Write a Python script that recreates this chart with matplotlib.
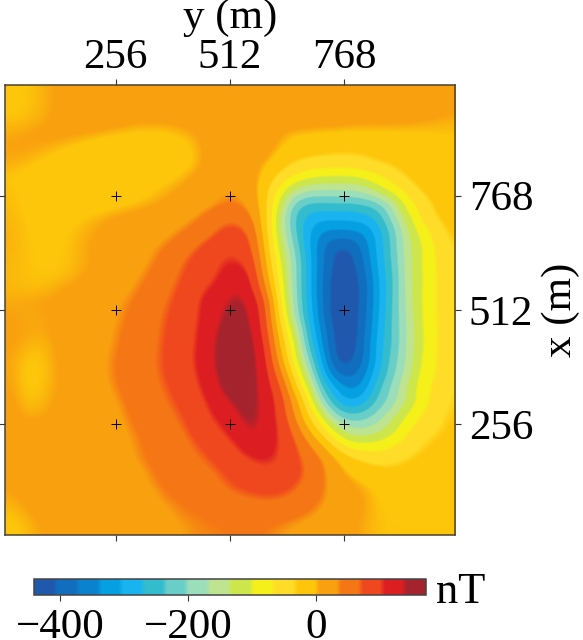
import matplotlib
matplotlib.use('Agg')
import matplotlib.pyplot as plt
from matplotlib.colors import LinearSegmentedColormap
import numpy as np

plt.rcParams['font.family'] = ['Liberation Serif', 'DejaVu Serif']

## Data (nT), top row of the picture first
anomaly = [
    [-4, -3, 0, 5, 8, 10, 12, 13, 14, 14, 14, 14, 15, 15, 15, 15, 15, 14, 12, 11, 10, 10, 10, 10, 11, 13, 15, 18, 18, 15, 12, 10],
    [-5, -3, 0, 5, 10, 15, 18, 20, 20, 18, 17, 16, 17, 18, 19, 20, 20, 18, 16, 15, 15, 14, 13, 12, 13, 14, 15, 17, 17, 15, 12, 9],
    [-2, -1, 2, 6, 10, 13, 14, 12, 9, 7, 6, 7, 9, 13, 18, 20, 20, 19, 17, 16, 15, 14, 12, 11, 9, 8, 8, 8, 7, 5, 3, 1],
    [3, 5, 7, 8, 7, 5, 2, -1, -3, -5, -5, -4, -1, 3, 12, 18, 20, 19, 16, 5, -2, -3, -4, -4, -5, -5, -5, -5, -5, -4, -3, -2],
    [5, 5, 3, 0, -4, -8, -12, -14, -15, -15, -14, -12, -8, -1, 10, 18, 20, 18, 12, 0, -10, -15, -20, -25, -26, -25, -22, -18, -15, -12, -10, -8],
    [2, 0, -4, -8, -11, -14, -16, -18, -19, -19, -18, -15, -10, -2, 10, 18, 18, 12, 3, -15, -33, -42, -45, -46, -44, -38, -30, -25, -20, -15, -12, -9],
    [-3, -6, -9, -11, -13, -15, -16, -16, -15, -13, -10, -6, -1, 6, 15, 22, 22, 14, -10, -40, -65, -88, -97, -100, -100, -90, -72, -50, -30, -18, -12, -8],
    [-2, -5, -8, -10, -12, -13, -14, -13, -11, -8, -4, 1, 6, 14, 22, 30, 30, 18, -25, -75, -140, -165, -172, -170, -170, -155, -115, -85, -55, -30, -18, -12],
    [-1, -4, -7, -9, -10, -10, -9, -7, -4, -1, 3, 8, 14, 20, 28, 37, 38, 24, -22, -110, -215, -250, -248, -246, -246, -240, -222, -160, -85, -55, -27, -14],
    [0, -3, -6, -7, -6, -3, 1, 5, 9, 12, 15, 19, 25, 34, 48, 60, 62, 40, -20, -135, -240, -285, -300, -298, -298, -290, -262, -190, -120, -62, -37, -20],
    [1, -3, -5, -6, -3, 1, 5, 9, 12, 15, 20, 27, 37, 47, 60, 78, 82, 62, -15, -130, -225, -300, -345, -350, -348, -340, -290, -225, -145, -88, -58, -28],
    [1, -2, -4, -5, -2, 2, 6, 10, 15, 22, 30, 39, 52, 66, 82, 92, 97, 72, -5, -112, -203, -295, -370, -408, -408, -358, -295, -225, -150, -105, -66, -35],
    [0, -2, -4, -4, -2, 2, 7, 11, 14, 24, 35, 47, 65, 78, 90, 103, 103, 88, 5, -95, -185, -285, -368, -422, -425, -372, -295, -232, -152, -101, -70, -38],
    [0, -2, -3, -3, -1, 3, 8, 12, 22, 31, 42, 56, 70, 82, 92, 110, 122, 100, 20, -80, -185, -285, -372, -427, -430, -385, -305, -238, -155, -103, -72, -40],
    [0, -1, -1, 2, 6, 10, 14, 22, 27, 37, 48, 62, 75, 90, 105, 120, 137, 110, 42, -65, -183, -285, -375, -432, -436, -393, -310, -240, -157, -101, -72, -42],
    [3, 4, 5, 7, 10, 13, 15, 27, 33, 44, 54, 68, 80, 95, 120, 132, 147, 128, 73, -48, -180, -280, -372, -435, -438, -390, -310, -235, -160, -100, -72, -42],
    [5, 3, 3, 6, 10, 13, 18, 27, 37, 47, 57, 72, 82, 98, 118, 140, 152, 135, 78, -33, -165, -272, -368, -432, -436, -385, -305, -232, -165, -101, -72, -42],
    [6, 4, 3, 6, 11, 14, 19, 30, 40, 50, 60, 74, 83, 100, 125, 147, 155, 143, 85, -12, -118, -255, -350, -425, -436, -382, -298, -232, -170, -103, -72, -42],
    [6, 1, -1, 4, 11, 15, 22, 32, 42, 52, 62, 75, 85, 102, 127, 150, 160, 147, 100, 2, -88, -237, -338, -422, -432, -375, -287, -235, -165, -105, -74, -42],
    [4, -3, -3, 3, 11, 15, 23, 35, 44, 54, 63, 76, 86, 104, 128, 152, 163, 150, 108, 23, -75, -195, -315, -418, -422, -372, -290, -220, -168, -98, -72, -40],
    [4, -5, -4, 2, 10, 15, 23, 35, 44, 53, 62, 75, 85, 100, 125, 148, 160, 152, 115, 50, -40, -150, -290, -375, -392, -352, -275, -215, -155, -92, -70, -38],
    [5, -4, -3, 3, 10, 14, 21, 33, 42, 51, 60, 70, 82, 95, 117, 145, 155, 150, 120, 78, -8, -100, -240, -310, -352, -325, -245, -192, -135, -80, -62, -36],
    [7, -2, -1, 5, 10, 13, 18, 26, 39, 47, 57, 66, 76, 90, 107, 128, 145, 148, 125, 92, 25, -50, -190, -275, -310, -285, -225, -190, -130, -88, -55, -34],
    [9, 2, 3, 7, 10, 12, 16, 22, 35, 44, 53, 61, 70, 83, 100, 115, 135, 148, 125, 95, 38, -28, -101, -205, -232, -220, -190, -140, -98, -65, -48, -30],
    [12, 10, 10, 10, 11, 12, 15, 20, 30, 40, 49, 57, 65, 78, 92, 103, 122, 140, 125, 100, 62, 5, -50, -115, -165, -168, -148, -115, -72, -50, -38, -27],
    [13, 13, 12, 12, 12, 13, 15, 18, 27, 36, 44, 50, 58, 70, 80, 92, 105, 128, 122, 100, 76, 40, 0, -50, -92, -97, -92, -72, -55, -37, -28, -20],
    [12, 13, 13, 13, 13, 13, 15, 17, 24, 35, 42, 50, 58, 63, 72, 82, 93, 104, 110, 100, 80, 58, 36, 0, -26, -40, -50, -45, -35, -27, -22, -16],
    [10, 12, 13, 14, 14, 14, 15, 17, 21, 27, 38, 46, 52, 56, 63, 72, 80, 89, 95, 92, 83, 63, 42, 14, -5, -15, -22, -24, -22, -18, -15, -12],
    [6, 10, 13, 14, 15, 15, 16, 17, 19, 24, 33, 41, 47, 51, 57, 66, 74, 78, 82, 80, 72, 58, 40, 22, 8, 1, -6, -9, -10, -9, -9, -8],
    [2, 7, 12, 14, 15, 16, 16, 17, 18, 21, 26, 36, 39, 43, 49, 55, 61, 65, 67, 66, 60, 48, 36, 22, 12, 4, -3, -5, -6, -6, -6, -5],
    [-2, 2, 8, 11, 14, 15, 16, 17, 18, 20, 23, 28, 36, 38, 41, 45, 49, 51, 50, 47, 42, 36, 28, 19, 11, 3, -2, -4, -4, -4, -4, -4],
    [-5, -1, 4, 8, 11, 13, 15, 16, 17, 18, 21, 25, 30, 35, 36, 38, 40, 40, 38, 33, 29, 24, 19, 13, 7, 2, -2, -3, -3, -3, -3, -3],
]
grid_ticks = [256, 512, 768]
cbar_ticks = [-400, -200, 0]
vmin, vmax = -441, 171
level_colors = ['#2058ae', '#116ebe', '#0a82cd', '#05a0e1', '#19b4f0', '#32bccd',
                '#69cdc8', '#9bdeb9', '#bee491', '#cde64b', '#f5f019', '#ffdc28',
                '#fdc60a', '#f9a00f', '#f57614', '#f0481e', '#dc1e23', '#a5232d']

# stepped colormap, the steps get a short ramp so slow gradients look soft
n = len(level_colors)
ramp = 0.12
stops = []
for i, c in enumerate(level_colors):
    lo = 0.0 if i == 0 else (i + ramp) / n
    hi = 1.0 if i == n - 1 else (i + 1 - ramp) / n
    stops += [(lo, c), (hi, c)]
cmap = LinearSegmentedColormap.from_list('anomaly', stops, N=2048)

fig = plt.figure(figsize=(5.83, 6.40), dpi=100)
ax = fig.add_axes([5 / 583, 1 - 535 / 640, 450 / 583, 450 / 640])
im = ax.imshow(np.array(anomaly), extent=(8, 1016, 8, 1016), cmap=cmap, vmin=vmin, vmax=vmax,
               interpolation='bicubic', interpolation_stage='data', aspect='auto')

px, py = np.meshgrid(grid_ticks, grid_ticks)
ax.scatter(px.ravel(), py.ravel(), marker='+', c='k', s=50, linewidths=0.7)

ax.set_xticks(grid_ticks)
ax.set_yticks(grid_ticks)
ax.tick_params(top=True, bottom=True, left=True, right=True, labeltop=True, labelbottom=False,
               labelleft=False, labelright=True, labelsize=31, length=4, width=0.8,
               color='#333333', pad=2)
ax.tick_params(axis='y', pad=6)
ax.xaxis.set_label_position('top')
ax.yaxis.set_label_position('right')
ax.set_xlabel('y (m)', fontsize=31, labelpad=7)
ax.set_ylabel('x (m)', fontsize=31, labelpad=6)
for s in ax.spines.values():
    s.set_linewidth(1.1)
    s.set_color('#4a4030')

cax = fig.add_axes([34 / 583, 1 - 595 / 640, 392 / 583, 16 / 640])
cb = fig.colorbar(im, cax=cax, orientation='horizontal')
cb.set_ticks(cbar_ticks)
cb.ax.tick_params(labelsize=31, length=4, width=0.8, color='#333333', pad=6)
cb.outline.set_linewidth(1.1)
cb.outline.set_edgecolor('#444444')
fig.text(436 / 583, 1 - 603 / 640, 'nT', fontsize=32, va='baseline', ha='left')

plt.savefig('out.png', dpi=100)
